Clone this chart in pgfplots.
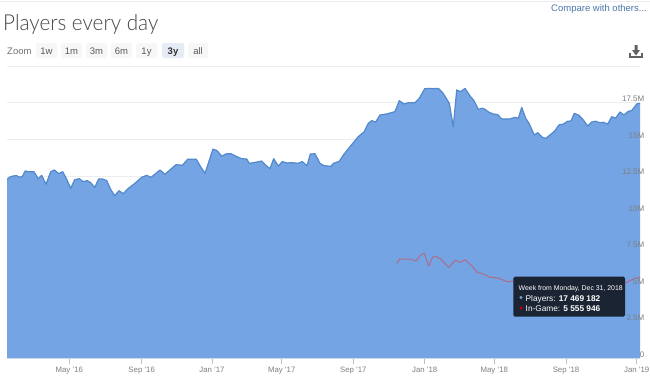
\documentclass[border=0pt]{standalone}
\usepackage{pgfplots}
\pgfplotsset{compat=1.18}
\usepackage{pgfplotstable}
\usepackage{fontspec}
\setmainfont{Liberation Sans}
\newfontfamily\lightfont[FakeStretch=0.94]{Lato Light}
\definecolor{areablue}{HTML}{74A4E3}
\definecolor{lineblue}{HTML}{5288CC}
\definecolor{redline}{HTML}{B4677F}
\definecolor{gridc}{HTML}{EDEDED}
\definecolor{tickc}{HTML}{7F7F7F}
\definecolor{tipc}{HTML}{1B2433}
\definecolor{linkc}{HTML}{4A76A8}
\definecolor{selc}{HTML}{E6ECF6}
\pgfplotstableread{
x v
7 12.27
10 12.43
13.3 12.50
16.7 12.52
19.3 12.43
22 12.43
25.3 12.84
28.7 12.79
34 12.79
38.3 12.31
41.7 12.54
46 11.93
50.7 12.79
54.3 12.91
58.7 12.66
62.7 12.79
66.7 12.27
70.7 11.65
74.7 12.25
79.3 12.31
83.3 12.11
87.3 12.18
90.7 12.04
94.7 11.72
98.7 12.29
102.7 12.29
106.7 12.18
110.7 11.58
114.7 11.15
119 11.49
123.3 11.29
128.3 11.65
135 12.0
141.7 12.41
146.7 12.54
151 12.41
156 12.68
160 12.91
165 12.61
169 12.86
176 13.27
182.3 13.23
187.7 13.64
196.3 13.64
201 13.09
205 12.68
213 14.34
217 14.23
221.7 13.86
226.7 14.02
231 14.02
236.7 13.82
241.7 13.68
246.7 13.66
249.3 13.36
255 13.43
261.7 13.52
265.7 13.23
270 13.0
273.7 13.68
278.3 13.18
282.3 13.48
287 13.39
292.3 13.41
297.7 13.36
302.3 13.48
307 13.2
310.3 14.0
315 14.02
320 13.36
324 13.2
331 13.16
333.3 13.36
339.3 13.50
343.3 13.93
350 14.50
358.3 15.19
364 15.51
368.3 16.10
371.7 16.28
375.7 16.19
380 16.67
386.7 16.74
395 16.90
399.3 17.65
404 17.42
408.3 17.51
415 17.51
419.3 17.81
424.7 18.47
430 18.49
433.3 18.47
438.3 18.49
442.7 18.20
449.3 17.47
453.3 15.87
456.7 18.38
460.7 18.27
465 18.49
470 17.97
474 17.65
478.3 17.06
482.7 17.13
485 17.06
489 16.85
493.3 16.74
497.7 16.69
501.7 16.40
510 16.40
515 16.51
518.3 16.44
521.7 17.19
525.7 16.44
529 16.10
534.3 15.30
537.7 15.46
542.3 15.14
545.7 15.07
550 15.30
555 15.60
559 15.99
563.3 16.05
567.7 16.24
571 16.26
574.3 16.78
579 16.65
583.3 16.33
587.7 15.92
591.7 16.19
595.7 16.24
600 16.14
603.3 16.17
607.7 16.05
611.7 16.55
615.7 16.46
620 16.87
624 16.67
628.3 16.92
631.7 16.97
636.7 17.42
640 17.47
}\players
\pgfplotstableread{
x v
396.7 6.52
400 6.84
403.3 6.80
410 6.82
416 6.68
420 7.05
424.3 7.21
428.7 6.34
432.7 6.96
436.7 6.98
441.7 6.75
448.7 6.23
455 6.73
460 6.59
465 6.77
471.7 6.36
477.7 5.88
481.7 5.84
490 5.57
498.3 5.52
506.7 5.27
513.3 5.31
520 5.20
540 5.10
560 5.20
580 5.20
600 5.10
620 5.00
625 5.18
635 5.50
640 5.56
}\ingame
\begin{document}
\begin{tikzpicture}[x=1pt,y=1pt]
\path[use as bounding box] (0,0) rectangle (650,384);
\fill[white] (0,0) rectangle (650,384);
\draw[gridc,line width=0.8pt] (0,382.5) -- (650,382.5);
\foreach \g in {61.85,98.4,134.95,171.5,208.05,244.6,281.15,317.7}
  \draw[gridc,line width=0.8pt] (7,\g) -- (640,\g);
\begin{axis}[
  axis on top,
  at={(7pt,25.3pt)}, anchor=south west,
  scale only axis, width=633pt, height=292.4pt,
  xmin=7, xmax=640, ymin=0, ymax=20,
  axis line style={draw=none},
  axis x line*=bottom,
  axis y line*=right,
  ytick={0,2.5,5,7.5,10,12.5,15,17.5,20},
  yticklabels={0,2.5M,5M,7.5M,10M,12.5M,15M,17.5M,{}},
  y tick style={draw=none},
  major tick length=5pt,
  y tick label style={anchor=east,xshift=4.5pt,yshift=4pt,font=\fontsize{8}{10}\selectfont,text=tickc,inner sep=0pt},
  xtick={69.3,141.7,212,281.7,353.3,424.7,494.3,566,636.7},
  xticklabels={May '16,Sep '16,Jan '17,May '17,Sep '17,Jan '18,May '18,Sep '18,Jan '19},
  x tick style={draw=gridc!80!black,line width=0.6pt},
  xtick align=outside,
  x tick label style={font=\fontsize{7.8}{10}\selectfont,text=tickc,yshift=-2pt,inner sep=1pt},
]
\addplot[fill=areablue,draw=none] table[x=x,y=v]{\players} \closedcycle;
\addplot[lineblue,line width=1.2pt,line join=round] table[x=x,y=v]{\players};
\addplot[redline,line width=0.9pt,line join=round] table[x=x,y=v]{\ingame};
\end{axis}
\draw[gridc!70!areablue,line width=0.6pt] (7,25.3) -- (640,25.3);
% title and controls
\node[anchor=base west,inner sep=0pt,text=black!72] at (3,354) {\lightfont\fontsize{22}{28}\selectfont Players every day};
\node[anchor=base east,inner sep=0pt,text=linkc] at (647,372.5) {\fontsize{9.5}{12}\selectfont Compare with others...};
\node[anchor=base west,inner sep=0pt,text=black!55] at (7,330) {\fontsize{9.5}{12}\selectfont Zoom};
\foreach \a/\b/\t in {36/57/1w,61/82/1m,86/107/3m,111/132/6m,136/157/1y,188/208/all}{
  \fill[black!3,rounded corners=1.5pt] (\a,326) rectangle (\b,341);
  \node[text=black!65,inner sep=0pt,anchor=base] at ({(\a+\b)/2},330) {\fontsize{9.5}{12}\selectfont\t};
}
\fill[selc,rounded corners=1.5pt] (162,326) rectangle (184,341);
\node[text=black!80,inner sep=0pt,anchor=base] at (173,330) {\fontsize{9.5}{12}\selectfont\bfseries 3y};
% download icon
\fill[black!62] (634.5,339) -- (637.5,339) -- (637.5,334) -- (640,334) -- (636,328.5) -- (632,334) -- (634.5,334) -- cycle;
\draw[black!62,line width=1.5pt] (630,331) -- (630,327) -- (642,327) -- (642,331);
% tooltip
\fill[tipc,rounded corners=1.5pt] (513.3,67.3) rectangle (625,107.3);
\node[anchor=base west,inner sep=0pt,text=white] at (518.5,93.5) {\fontsize{6.9}{9}\selectfont Week from Monday, Dec 31, 2018};
\fill[areablue] (521,86.5) circle (1.6);
\node[anchor=base west,inner sep=0pt,text=white] at (525.5,83) {\fontsize{8.3}{10}\selectfont Players: \bfseries 17 469 182};
\fill[red!75!black] (521,76) circle (1.6);
\node[anchor=base west,inner sep=0pt,text=white] at (525.5,72.5) {\fontsize{8.3}{10}\selectfont In-Game: \bfseries 5 555 946};
\end{tikzpicture}
\end{document}
